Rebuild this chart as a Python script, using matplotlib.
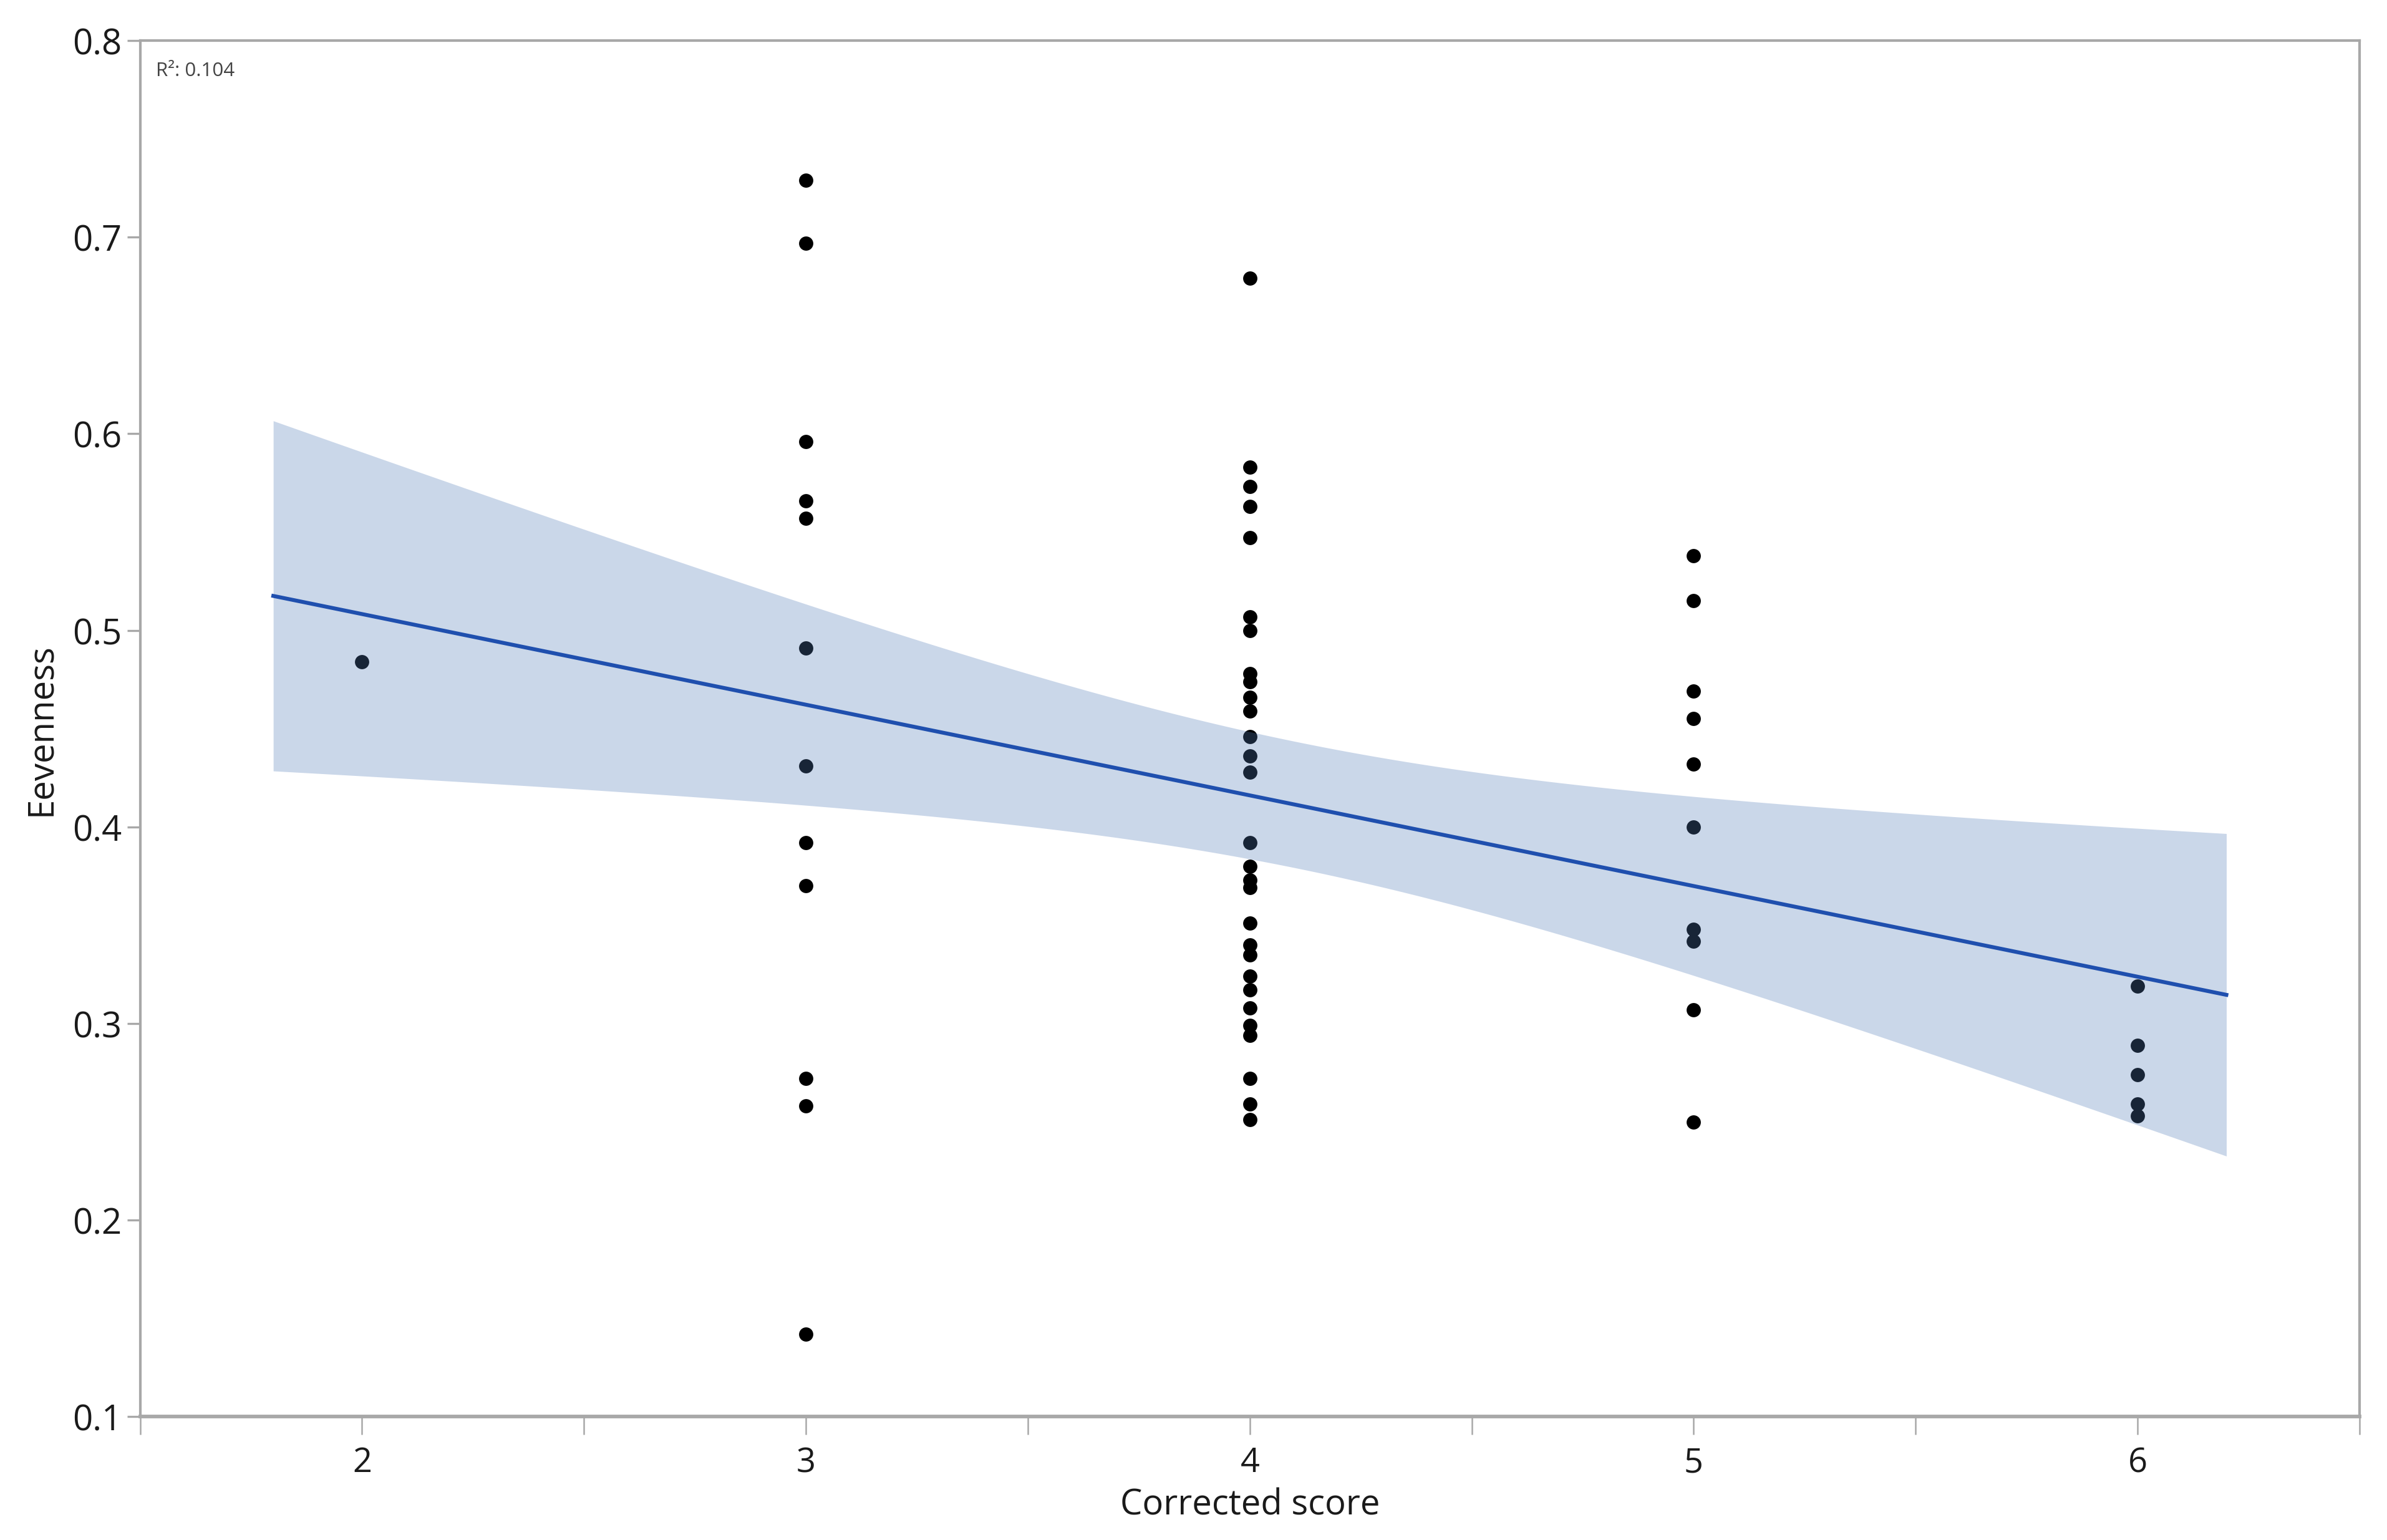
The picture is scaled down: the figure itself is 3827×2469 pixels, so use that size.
import numpy as np
import matplotlib
matplotlib.use('Agg')
import matplotlib.pyplot as plt
from matplotlib.ticker import MultipleLocator

plt.rcParams['font.family'] = ['Open Sans', 'DejaVu Sans']

# Corrected score groups and the Eevenness values
score_2 = [0.484]
score_3 = [0.729, 0.697, 0.596, 0.566, 0.557, 0.491, 0.431, 0.392, 0.370,
           0.272, 0.258, 0.142]
score_4 = [0.679, 0.583, 0.573, 0.563, 0.547, 0.507, 0.500, 0.478, 0.474,
           0.466, 0.459, 0.446, 0.436, 0.428, 0.392, 0.380, 0.373, 0.369,
           0.351, 0.340, 0.335, 0.324, 0.317, 0.308, 0.299, 0.294, 0.272,
           0.259, 0.251]
score_5 = [0.538, 0.515, 0.469, 0.455, 0.432, 0.400, 0.348, 0.342, 0.307,
           0.250]
score_6 = [0.319, 0.289, 0.274, 0.259, 0.253]

groups = {2: score_2, 3: score_3, 4: score_4, 5: score_5, 6: score_6}
r2_label = 'R²: 0.104'
fit_range = (1.8, 6.2)
t_crit = 2.004  # t(0.975, df=55)

x = np.concatenate([[k] * len(v) for k, v in groups.items()]).astype(float)
y = np.concatenate([v for v in groups.values()])

# least squares fit + 95% confidence band of the mean
n = len(x)
slope, intercept = np.polyfit(x, y, 1)
resid = y - (intercept + slope * x)
s = np.sqrt(np.sum(resid ** 2) / (n - 2))
xm = x.mean()
sxx = np.sum((x - xm) ** 2)
xs = np.linspace(fit_range[0], fit_range[1], 200)
ys = intercept + slope * xs
half = t_crit * s * np.sqrt(1.0 / n + (xs - xm) ** 2 / sxx)

fig = plt.figure(figsize=(3827 / 300, 2470 / 300), dpi=300)
ax = fig.add_axes([0.0587, 0.080, 0.9298, 0.8933])

ax.scatter(x, y, s=30, color='black', linewidths=0, zorder=2)
ax.fill_between(xs, ys - half, ys + half, color='#527bb9', alpha=0.3,
                linewidth=0, zorder=3)
ax.plot(xs, ys, color='#1f4fae', linewidth=1.5, zorder=4)

ax.set_xlim(1.5, 6.5)
ax.set_ylim(0.1, 0.8)
ax.xaxis.set_major_locator(MultipleLocator(1))
ax.xaxis.set_minor_locator(MultipleLocator(0.5))
ax.yaxis.set_major_locator(MultipleLocator(0.1))
ax.yaxis.set_major_formatter(matplotlib.ticker.FormatStrFormatter('%.1f'))

for sp in ax.spines.values():
    sp.set_color('#a8a8a8')
    sp.set_linewidth(1.0)
ax.spines['bottom'].set_linewidth(1.4)

ax.tick_params(axis='x', which='both', direction='out', length=7, width=0.6,
               color='#a8a8a8', labelsize=13, labelcolor='#1a1a1a', pad=4)
ax.tick_params(axis='y', which='major', direction='out', length=5, width=0.8,
               color='#a8a8a8', labelsize=13.5, labelcolor='#1a1a1a', pad=2)

ax.set_xlabel('Corrected score', fontsize=13.5, color='#1a1a1a', labelpad=3)
ax.set_ylabel('Eevenness', fontsize=13.5, color='#1a1a1a', labelpad=5)

ax.text(0.007, 0.985, r2_label, transform=ax.transAxes, fontsize=7.5,
        color='#444444', va='top', ha='left')

fig.savefig('out.png', dpi=300, facecolor='white')
